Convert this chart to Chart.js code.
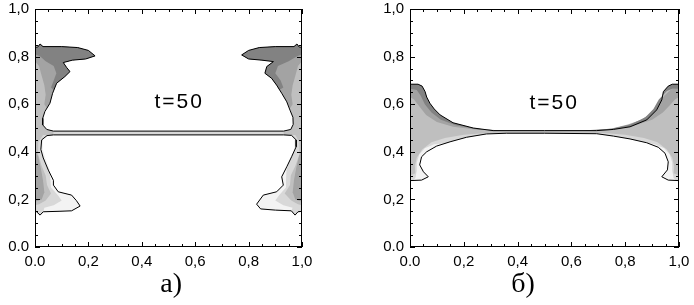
<!DOCTYPE html>
<html><head><meta charset="utf-8">
<script src="https://cdn.jsdelivr.net/npm/chart.js@4/dist/chart.umd.min.js"></script>
<style>
html,body{margin:0;padding:0;background:#fff;width:694px;height:305px;overflow:hidden}
canvas{position:absolute;top:0}
#ca{left:0}#cb{left:347px}
</style></head>
<body>
<canvas id="ca" width="347" height="305"></canvas>
<canvas id="cb" width="347" height="305"></canvas>
<script>
// ---------- axis ticks / labels ----------
const majorTicks = [0, 0.2, 0.4, 0.6, 0.8, 1.0];
const minorTicks = [0.05,0.1,0.15,0.25,0.3,0.35,0.45,0.5,0.55,0.65,0.7,0.75,0.85,0.9,0.95];
const tickLabels = ['0.0','0,2','0,4','0,6','0,8','1,0'];
const noteText = 't=50';
const panelLabels = ['а)', 'б)'];
const noteA = [0.536, 0.607];
const noteB = [0.532, 0.605];
const labelPosA = [0.51, -0.16];
const labelPosB = [0.42, -0.16];

// gray levels (lightest -> darkest)
const c1 = '#f3f3f3', c2 = '#d8d8d8', c3 = '#bfbfbf', c4 = '#a3a3a3', c5 = '#828282';

// ---------- panel a) contours ----------
const aUpperL = [[0,0.84],[0.01,0.84],[0.019,0.853],[0.03,0.842],[0.1,0.842],[0.16,0.838],[0.2,0.826],[0.225,0.803],[0.19,0.79],[0.14,0.785],[0.106,0.775],[0.118,0.755],[0.131,0.737],[0.112,0.716],[0.081,0.688],[0.066,0.646],[0.056,0.604],[0.037,0.569],[0.029,0.541],[0.029,0.513],[0.044,0.494],[0.069,0.487]];
const aUpperR = [[0.931,0.487],[0.958,0.494],[0.967,0.515],[0.966,0.545],[0.955,0.575],[0.943,0.61],[0.924,0.646],[0.905,0.68],[0.886,0.709],[0.861,0.73],[0.868,0.758],[0.893,0.779],[0.85,0.785],[0.8,0.79],[0.774,0.807],[0.8,0.826],[0.84,0.838],[0.9,0.842],[0.97,0.842],[0.981,0.853],[0.99,0.84],[1,0.84]];
const aLowerL = [[0,0.15],[0.006,0.148],[0.019,0.134],[0.031,0.148],[0.09,0.15],[0.137,0.152],[0.169,0.172],[0.155,0.195],[0.137,0.218],[0.087,0.232],[0.069,0.26],[0.069,0.28],[0.05,0.323],[0.031,0.374],[0.022,0.41],[0.025,0.45],[0.045,0.468],[0.069,0.471]];
const aLowerR = [[0.931,0.471],[0.961,0.469],[0.978,0.45],[0.978,0.421],[0.961,0.379],[0.943,0.337],[0.924,0.295],[0.93,0.26],[0.905,0.232],[0.855,0.218],[0.83,0.18],[0.845,0.16],[0.9,0.155],[0.96,0.152],[0.974,0.134],[0.985,0.148],[1,0.15]];

const aStrip = [[0.069,0.471],[0.931,0.471],[0.931,0.487],[0.069,0.487]];
const aUL4 = [[0,0.84],[0.01,0.84],[0.019,0.853],[0.03,0.842],[0.1,0.842],[0.16,0.838],[0.2,0.826],[0.225,0.803],[0.19,0.79],[0.14,0.785],[0.106,0.775],[0.118,0.755],[0.131,0.737],[0.112,0.716],[0.081,0.688],[0.066,0.646],[0.056,0.604],[0.045,0.583],[0.035,0.6],[0.04,0.64],[0.035,0.68],[0.025,0.72],[0.015,0.76],[0,0.78]];
const aUL5 = [[0,0.84],[0.01,0.84],[0.019,0.853],[0.03,0.842],[0.1,0.842],[0.16,0.838],[0.2,0.826],[0.225,0.803],[0.19,0.79],[0.14,0.785],[0.106,0.775],[0.118,0.755],[0.131,0.737],[0.112,0.716],[0.081,0.688],[0.07,0.66],[0.06,0.67],[0.07,0.7],[0.08,0.73],[0.07,0.76],[0.04,0.78],[0.02,0.8],[0,0.81]];
const aUR4 = [[1,0.84],[0.99,0.84],[0.981,0.853],[0.97,0.842],[0.9,0.842],[0.84,0.838],[0.8,0.826],[0.774,0.807],[0.8,0.79],[0.85,0.785],[0.893,0.779],[0.868,0.758],[0.861,0.73],[0.886,0.709],[0.905,0.68],[0.924,0.646],[0.943,0.61],[0.955,0.583],[0.965,0.6],[0.96,0.64],[0.965,0.68],[0.975,0.72],[0.985,0.76],[1,0.78]];
const aUR5 = [[1,0.84],[0.99,0.84],[0.981,0.853],[0.97,0.842],[0.9,0.842],[0.84,0.838],[0.8,0.826],[0.774,0.807],[0.8,0.79],[0.85,0.785],[0.893,0.779],[0.868,0.758],[0.861,0.73],[0.886,0.709],[0.905,0.68],[0.915,0.66],[0.93,0.67],[0.92,0.7],[0.9,0.73],[0.91,0.76],[0.95,0.78],[0.98,0.8],[1,0.81]];
const aLL4 = [[0,0.19],[0.025,0.2],[0.035,0.23],[0.03,0.28],[0.022,0.33],[0.012,0.38],[0,0.41]];
const aLL2 = [[0,0.15],[0.006,0.148],[0.019,0.134],[0.031,0.148],[0.09,0.15],[0.137,0.152],[0.169,0.172],[0.155,0.195],[0.137,0.218],[0.087,0.232],[0.069,0.26],[0.069,0.28],[0.05,0.323],[0.031,0.374],[0.022,0.41],[0.025,0.45],[0.045,0.468],[0.069,0.471],[0.03,0.471],[0.012,0.44],[0.012,0.39],[0.025,0.34],[0.04,0.3],[0.045,0.26],[0.06,0.225],[0.04,0.195],[0.015,0.18],[0,0.175]];
const aLL1 = [[0.031,0.148],[0.09,0.15],[0.137,0.152],[0.169,0.172],[0.155,0.195],[0.137,0.218],[0.087,0.232],[0.069,0.26],[0.069,0.28],[0.05,0.323],[0.031,0.374],[0.022,0.41],[0.025,0.45],[0.045,0.468],[0.069,0.471],[0.045,0.471],[0.03,0.45],[0.03,0.41],[0.04,0.37],[0.055,0.325],[0.058,0.28],[0.06,0.25],[0.085,0.218],[0.1,0.195],[0.07,0.175],[0.035,0.165]];
const aLR4 = [[1,0.19],[0.975,0.2],[0.965,0.23],[0.97,0.28],[0.978,0.33],[0.988,0.38],[1,0.41]];
const aLR2 = [[1,0.15],[0.985,0.148],[0.974,0.134],[0.96,0.152],[0.9,0.155],[0.845,0.16],[0.83,0.18],[0.855,0.218],[0.905,0.232],[0.93,0.26],[0.924,0.295],[0.943,0.337],[0.961,0.379],[0.978,0.421],[0.978,0.45],[0.961,0.469],[0.931,0.471],[0.975,0.471],[0.99,0.44],[0.99,0.39],[0.975,0.34],[0.958,0.3],[0.955,0.26],[0.935,0.225],[0.96,0.195],[0.985,0.18],[1,0.175]];
const aLR1 = [[0.96,0.152],[0.9,0.155],[0.845,0.16],[0.83,0.18],[0.855,0.218],[0.905,0.232],[0.93,0.26],[0.924,0.295],[0.943,0.337],[0.961,0.379],[0.978,0.421],[0.978,0.45],[0.961,0.469],[0.955,0.471],[0.97,0.45],[0.97,0.41],[0.955,0.37],[0.942,0.325],[0.94,0.28],[0.94,0.25],[0.915,0.218],[0.9,0.195],[0.93,0.175],[0.965,0.165]];

// ---------- panel б) contours ----------
const bUpper = [[0,0.684],[0.03,0.684],[0.045,0.676],[0.056,0.653],[0.062,0.63],[0.074,0.604],[0.09,0.58],[0.112,0.555],[0.16,0.522],[0.235,0.5],[0.309,0.489],[0.5,0.489],[0.694,0.489],[0.756,0.494],[0.818,0.505],[0.88,0.534],[0.917,0.576],[0.936,0.618],[0.942,0.653],[0.96,0.676],[0.975,0.684],[1,0.684]];
const bLower = [[0,0.279],[0.043,0.281],[0.068,0.295],[0.05,0.316],[0.036,0.345],[0.043,0.379],[0.062,0.4],[0.099,0.424],[0.149,0.442],[0.21,0.461],[0.284,0.475],[0.358,0.478],[0.5,0.478],[0.694,0.476],[0.756,0.466],[0.818,0.454],[0.88,0.438],[0.923,0.419],[0.948,0.394],[0.96,0.358],[0.957,0.324],[0.936,0.295],[0.96,0.281],[1,0.279]];
const bL5 = [[0,0.684],[0.03,0.684],[0.045,0.676],[0.056,0.653],[0.062,0.63],[0.074,0.604],[0.09,0.58],[0.112,0.555],[0.16,0.522],[0.235,0.5],[0.309,0.489],[0.36,0.489],[0.25,0.495],[0.17,0.512],[0.115,0.535],[0.08,0.565],[0.055,0.6],[0.04,0.635],[0.025,0.66],[0,0.665]];
const bL4 = [[0,0.67],[0.03,0.665],[0.045,0.64],[0.06,0.605],[0.085,0.57],[0.115,0.54],[0.17,0.515],[0.25,0.497],[0.33,0.49],[0.25,0.493],[0.16,0.505],[0.1,0.525],[0.06,0.555],[0.035,0.59],[0.015,0.62],[0,0.63]];
const bL2 = [[0,0.279],[0.043,0.281],[0.068,0.295],[0.05,0.316],[0.036,0.345],[0.043,0.379],[0.062,0.4],[0.099,0.424],[0.149,0.442],[0.21,0.461],[0.284,0.475],[0.358,0.478],[0.45,0.479],[0.3,0.48],[0.2,0.472],[0.13,0.458],[0.08,0.44],[0.045,0.41],[0.025,0.375],[0.018,0.34],[0.02,0.31],[0,0.3]];
const bL1 = [[0.01,0.279],[0.043,0.281],[0.068,0.295],[0.05,0.316],[0.036,0.345],[0.043,0.379],[0.062,0.4],[0.099,0.424],[0.13,0.436],[0.09,0.432],[0.055,0.415],[0.035,0.39],[0.025,0.355],[0.025,0.32],[0.02,0.29]];
const bR5 = [[1,0.684],[0.975,0.684],[0.96,0.676],[0.942,0.653],[0.936,0.618],[0.917,0.576],[0.88,0.534],[0.818,0.505],[0.756,0.494],[0.694,0.489],[0.64,0.489],[0.75,0.497],[0.82,0.515],[0.875,0.545],[0.905,0.58],[0.925,0.62],[0.955,0.655],[0.975,0.665],[1,0.665]];
const bR4 = [[1,0.67],[0.97,0.662],[0.945,0.635],[0.925,0.6],[0.9,0.565],[0.86,0.535],[0.81,0.515],[0.75,0.498],[0.67,0.49],[0.75,0.494],[0.83,0.508],[0.9,0.535],[0.94,0.565],[0.965,0.595],[0.985,0.62],[1,0.63]];
const bR2 = [[1,0.279],[0.96,0.281],[0.936,0.295],[0.957,0.324],[0.96,0.358],[0.948,0.394],[0.923,0.419],[0.88,0.438],[0.818,0.454],[0.756,0.466],[0.694,0.476],[0.6,0.478],[0.72,0.479],[0.8,0.472],[0.87,0.458],[0.92,0.44],[0.955,0.41],[0.975,0.375],[0.982,0.34],[0.98,0.31],[1,0.3]];
const bR1 = [[0.99,0.279],[0.96,0.281],[0.936,0.295],[0.957,0.324],[0.96,0.358],[0.948,0.394],[0.923,0.419],[0.88,0.438],[0.87,0.44],[0.91,0.432],[0.945,0.415],[0.965,0.39],[0.975,0.355],[0.975,0.32],[0.98,0.29]];

// ---------- assembled shapes ----------
const aGray = [...aUpperL, ...aUpperR, ...aLowerR.slice().reverse(), ...aLowerL.slice().reverse()];
const aUpperLine = [...aUpperL, ...aUpperR];
const aLowerLine = [...aLowerL, ...aLowerR];
const bGray = [...bUpper, ...bLower.slice().reverse()];

const layersA = [[aGray,c3],[aStrip,c2],[aUL4,c4],[aUL5,c5],[aUR4,c4],[aUR5,c5],[aLL4,c4],[aLL2,c2],[aLL1,c1],[aLR4,c4],[aLR2,c2],[aLR1,c1]];
const linesA = [aUpperLine, aLowerLine];
const layersB = [[bGray,c3],[bL4,c4],[bL5,c5],[bR4,c4],[bR5,c5],[bL2,c2],[bL1,c1],[bR2,c2],[bR1,c1]];
const linesB = [bUpper, bLower];

const toXY = arr => arr.map(p => ({x: p[0], y: p[1]}));

function buildDatasets(layers, lines) {
  const n = layers.length + lines.length;
  const ds = [];
  layers.forEach((l, i) => ds.push({
    data: toXY(l[0]), backgroundColor: l[1], borderColor: 'rgba(0,0,0,0)', borderWidth: 0,
    fill: 'shape', pointRadius: 0, tension: 0, order: n - i + 10
  }));
  lines.forEach((l) => ds.push({
    data: toXY(l), borderColor: '#000', borderWidth: 1, fill: false, pointRadius: 0, tension: 0, order: 1
  }));
  return ds;
}

const framePlugin = {
  id: 'frame',
  afterDraw(chart, args, opts) {
    const {ctx, chartArea: a, scales: {x, y}} = chart;
    ctx.save();
    ctx.strokeStyle = '#000';
    ctx.lineWidth = 1;
    ctx.strokeRect(a.left + 0.5, a.top + 0.5, a.right - a.left - 1, a.bottom - a.top - 1);
    ctx.beginPath();
    const tick = (v, len) => {
      const px = Math.round(x.getPixelForValue(v)) + 0.5;
      const py = Math.round(y.getPixelForValue(v)) + 0.5;
      ctx.moveTo(px, a.bottom); ctx.lineTo(px, a.bottom - len);
      ctx.moveTo(px, a.top); ctx.lineTo(px, a.top + len);
      ctx.moveTo(a.left, py); ctx.lineTo(a.left + len, py);
      ctx.moveTo(a.right, py); ctx.lineTo(a.right - len, py);
    };
    majorTicks.forEach(v => tick(v, 5));
    minorTicks.forEach(v => tick(v, 3));
    ctx.stroke();
    ctx.fillStyle = '#000';
    ctx.font = '21px "Liberation Sans"';
    ctx.textAlign = 'center';
    ctx.textBaseline = 'middle';
    try { ctx.letterSpacing = '2px'; } catch (e) {}
    ctx.fillText(noteText, x.getPixelForValue(opts.note[0]) + 1, y.getPixelForValue(opts.note[1]));
    try { ctx.letterSpacing = '0px'; } catch (e) {}
    ctx.font = '28px "Liberation Serif"';
    ctx.fillText(opts.label, x.getPixelForValue(opts.labelPos[0]), y.getPixelForValue(opts.labelPos[1]));
    ctx.restore();
  }
};

function makeChart(id, layers, lines, yWidth, padRight, note, label, labelPos) {
  return new Chart(document.getElementById(id), {
    type: 'line',
    data: {datasets: buildDatasets(layers, lines)},
    options: {
      responsive: false, animation: false, devicePixelRatio: 1,
      layout: {padding: {top: 9, right: padRight, bottom: 0, left: 0}},
      plugins: {legend: {display: false}, tooltip: {enabled: false},
        frame: {note: note, label: label, labelPos: labelPos}},
      scales: {
        x: {type: 'linear', min: 0, max: 1,
          grid: {display: false, drawTicks: false}, border: {display: false},
          ticks: {stepSize: 0.2, padding: 6, color: '#000', maxRotation: 0, autoSkip: false,
            font: {family: 'Liberation Sans', size: 15}, callback: (v, i) => tickLabels[i]},
          afterFit: s => { s.height = 58; s.paddingLeft = 0; s.paddingRight = 0; }},
        y: {type: 'linear', min: 0, max: 1,
          grid: {display: false, drawTicks: false}, border: {display: false},
          ticks: {stepSize: 0.2, padding: 6, color: '#000', autoSkip: false,
            font: {family: 'Liberation Sans', size: 15}, callback: (v, i) => tickLabels[i]},
          afterFit: s => { s.width = yWidth; s.paddingTop = 0; s.paddingBottom = 0; }}
      }
    },
    plugins: [framePlugin]
  });
}

makeChart('ca', layersA, linesA, 35, 45, noteA, panelLabels[0], labelPosA);
makeChart('cb', layersB, linesB, 63, 15, noteB, panelLabels[1], labelPosB);
</script>
</body></html>
